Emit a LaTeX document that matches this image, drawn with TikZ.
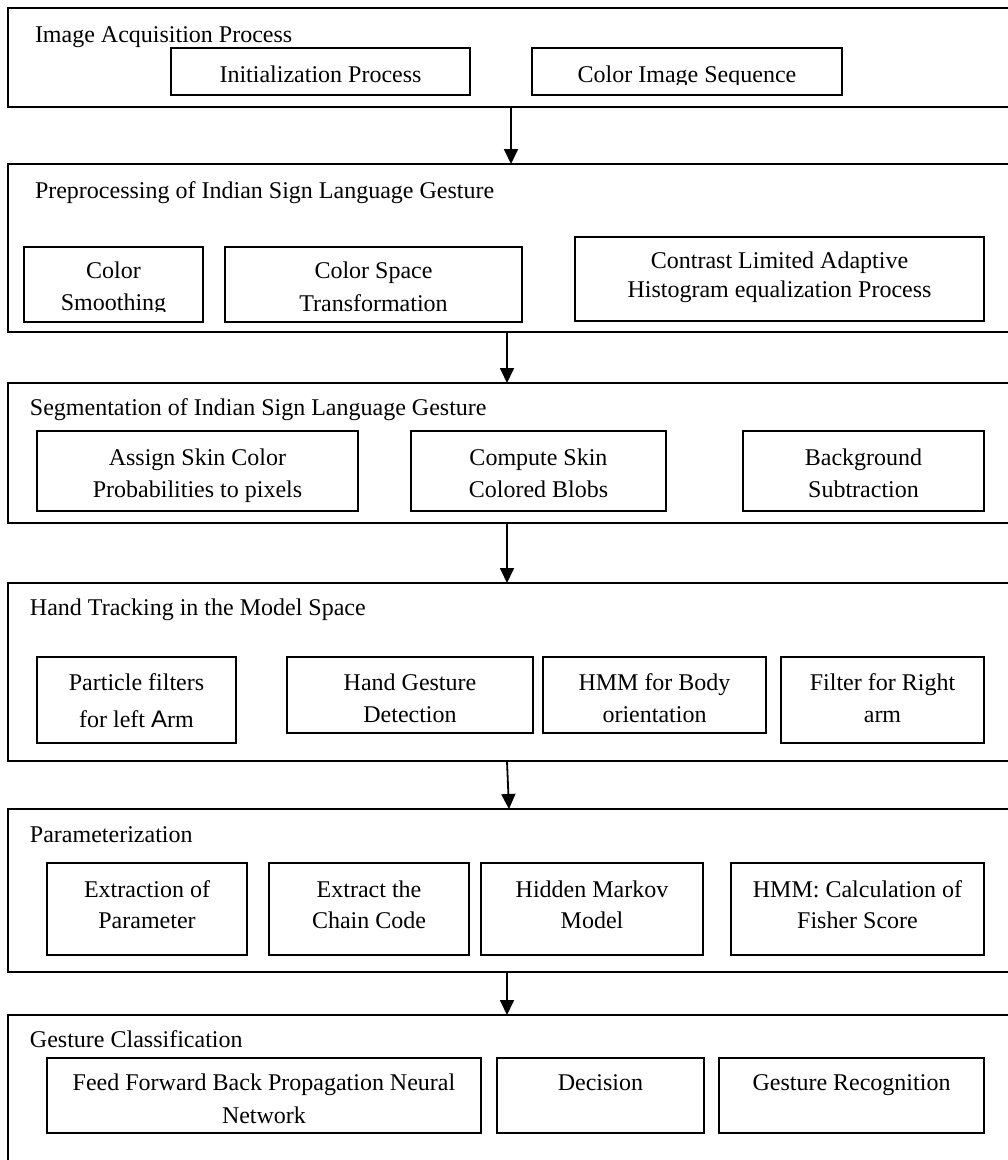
\documentclass[tikz,border=0pt]{standalone}
\usepackage{fontspec}
\setmainfont{Liberation Serif}
\newfontfamily\armsans{Liberation Sans}
\usetikzlibrary{arrows.meta}
\newcommand\twol[3]{\begin{tabular}[t]{@{}c@{}}#2\\[#1pt]#3\end{tabular}}
\newcommand\ibx[5]{\node[ibox, minimum width={#4-#2}, minimum height={#5-#3}] (#1) at ({(#2+#4)/2},{(#3+#5)/2}) {};}
\newcommand\obx[3]{\node[obox, minimum width=1004, minimum height={#3-#2}] (#1) at (510,{(#2+#3)/2}) {};}
\begin{document}
\begin{tikzpicture}[x=1pt,y=-1pt,
  obox/.style={draw, line width=1.6pt, inner sep=0pt, outer sep=0pt},
  ibox/.style={draw, line width=1.5pt, inner sep=0pt, outer sep=0pt},
  txt/.style={inner sep=0pt, outer sep=0pt, font=\fontsize{24}{32}\selectfont},
  ttl/.style={txt, anchor=base west},
  lbl/.style={txt, anchor=base},
  arr/.style={line width=1.8pt, -{Triangle[width=14pt,length=15pt]}}]
\useasboundingbox (0,0) rectangle (1008,1160);
\fill[white] (0,0) rectangle (1008,1160);
\clip (0,0) rectangle (1008,1160);

% outer stage boxes
\obx{B1}{8}{107}
\obx{B2}{164}{332}
\obx{B3}{383}{523}
\obx{B4}{583}{761}
\obx{B5}{809}{972}
\obx{B6}{1015}{1175}

% titles
\node[ttl] (T1) at (35,42) {Image Acquisition Process};
\node[ttl] (T2) at (35,198) {Preprocessing of Indian Sign Language Gesture};
\node[ttl] (T3) at (30,415) {Segmentation of Indian Sign Language Gesture};
\node[ttl] (T4) at (30,615) {Hand Tracking in the Model Space};
\node[ttl] (T5) at (30,842) {Parameterization};
\node[ttl] (T6) at (30,1047) {Gesture Classification};

% stage 1
\ibx{init}{171}{48}{470}{95}
\node[lbl] (init-t) at (init.center |- 0,82) {Initialization Process};
\ibx{cis}{532}{48}{842}{95}
\begin{scope}
\clip (532,48) rectangle (842,84);
\node[lbl] (cis-t) at (cis.center |- 0,82) {Color Image Sequence};
\end{scope}

% stage 2
\ibx{smooth}{24}{247}{203}{322}
\begin{scope}
\clip (24,247) rectangle (203,311);
\node[lbl] (smooth-t) at (smooth.center |- 0,278) {\twol{0}{Color}{Smoothing}};
\end{scope}
\ibx{cst}{225}{247}{522}{322}
\node[lbl] (cst-t) at (cst.center |- 0,278) {\twol{1}{Color Space}{Transformation}};
\ibx{clahe}{575}{237}{984}{321}
\node[lbl] (clahe-t) at (clahe.center |- 0,268) {\twol{-3}{Contrast Limited Adaptive}{Histogram equalization Process}};

% stage 3
\ibx{assign}{37}{431}{358}{511}
\node[lbl] (assign-t) at (assign.center |- 0,465) {\twol{0}{Assign Skin Color}{Probabilities to pixels}};
\ibx{blobs}{411}{431}{666}{511}
\node[lbl] (blobs-t) at (blobs.center |- 0,465) {\twol{0}{Compute Skin}{Colored Blobs}};
\ibx{bgs}{743}{431}{984}{511}
\node[lbl] (bgs-t) at (bgs.center |- 0,465) {\twol{0}{Background}{Subtraction}};

% stage 4
\ibx{pleft}{37}{657}{236}{743}
\node[lbl] (pleft-t) at (pleft.center |- 0,690) {\twol{5}{Particle filters}{for left {\armsans A}rm}};
\ibx{hgd}{287}{657}{533}{733}
\node[lbl] (hgd-t) at (hgd.center |- 0,690) {\twol{0}{Hand Gesture}{Detection}};
\ibx{hmmb}{543}{657}{766}{733}
\node[lbl] (hmmb-t) at (hmmb.center |- 0,690) {\twol{0}{HMM for Body}{orientation}};
\ibx{fright}{781}{657}{984}{743}
\node[lbl] (fright-t) at (fright.center |- 0,690) {\twol{0}{Filter for Right}{arm}};

% stage 5
\ibx{extp}{47}{863}{247}{955}
\node[lbl] (extp-t) at (extp.center |- 0,897) {\twol{-1}{Extraction of}{Parameter}};
\ibx{chain}{269}{863}{469}{955}
\node[lbl] (chain-t) at (chain.center |- 0,897) {\twol{-1}{Extract the}{Chain Code}};
\ibx{hmm}{481}{863}{703}{955}
\node[lbl] (hmm-t) at (hmm.center |- 0,897) {\twol{-1}{Hidden Markov}{Model}};
\ibx{fisher}{731}{863}{984}{955}
\node[lbl] (fisher-t) at (fisher.center |- 0,897) {\twol{-1}{HMM: Calculation of}{Fisher Score}};

% stage 6
\ibx{ffbp}{47}{1058}{481}{1133}
\node[lbl] (ffbp-t) at (ffbp.center |- 0,1090) {\twol{1}{Feed Forward Back Propagation Neural}{Network}};
\ibx{dec}{497}{1058}{704}{1133}
\node[lbl] (dec-t) at (dec.center |- 0,1090) {Decision};
\ibx{grec}{719}{1058}{984}{1133}
\node[lbl] (grec-t) at (grec.center |- 0,1090) {Gesture Recognition};

% connectors
\coordinate (x1) at (511,0);
\coordinate (x2) at (507,0);
\coordinate (x4) at (509,0);
\draw[arr] (B1.south -| x1) -- (B2.north -| x1);
\draw[arr] (B2.south -| x2) -- (B3.north -| x2);
\draw[arr] (B3.south -| x2) -- (B4.north -| x2);
\draw[arr] (B4.south -| x2) -- (B5.north -| x4);
\draw[arr] (B5.south -| x2) -- (B6.north -| x2);
\end{tikzpicture}
\end{document}
